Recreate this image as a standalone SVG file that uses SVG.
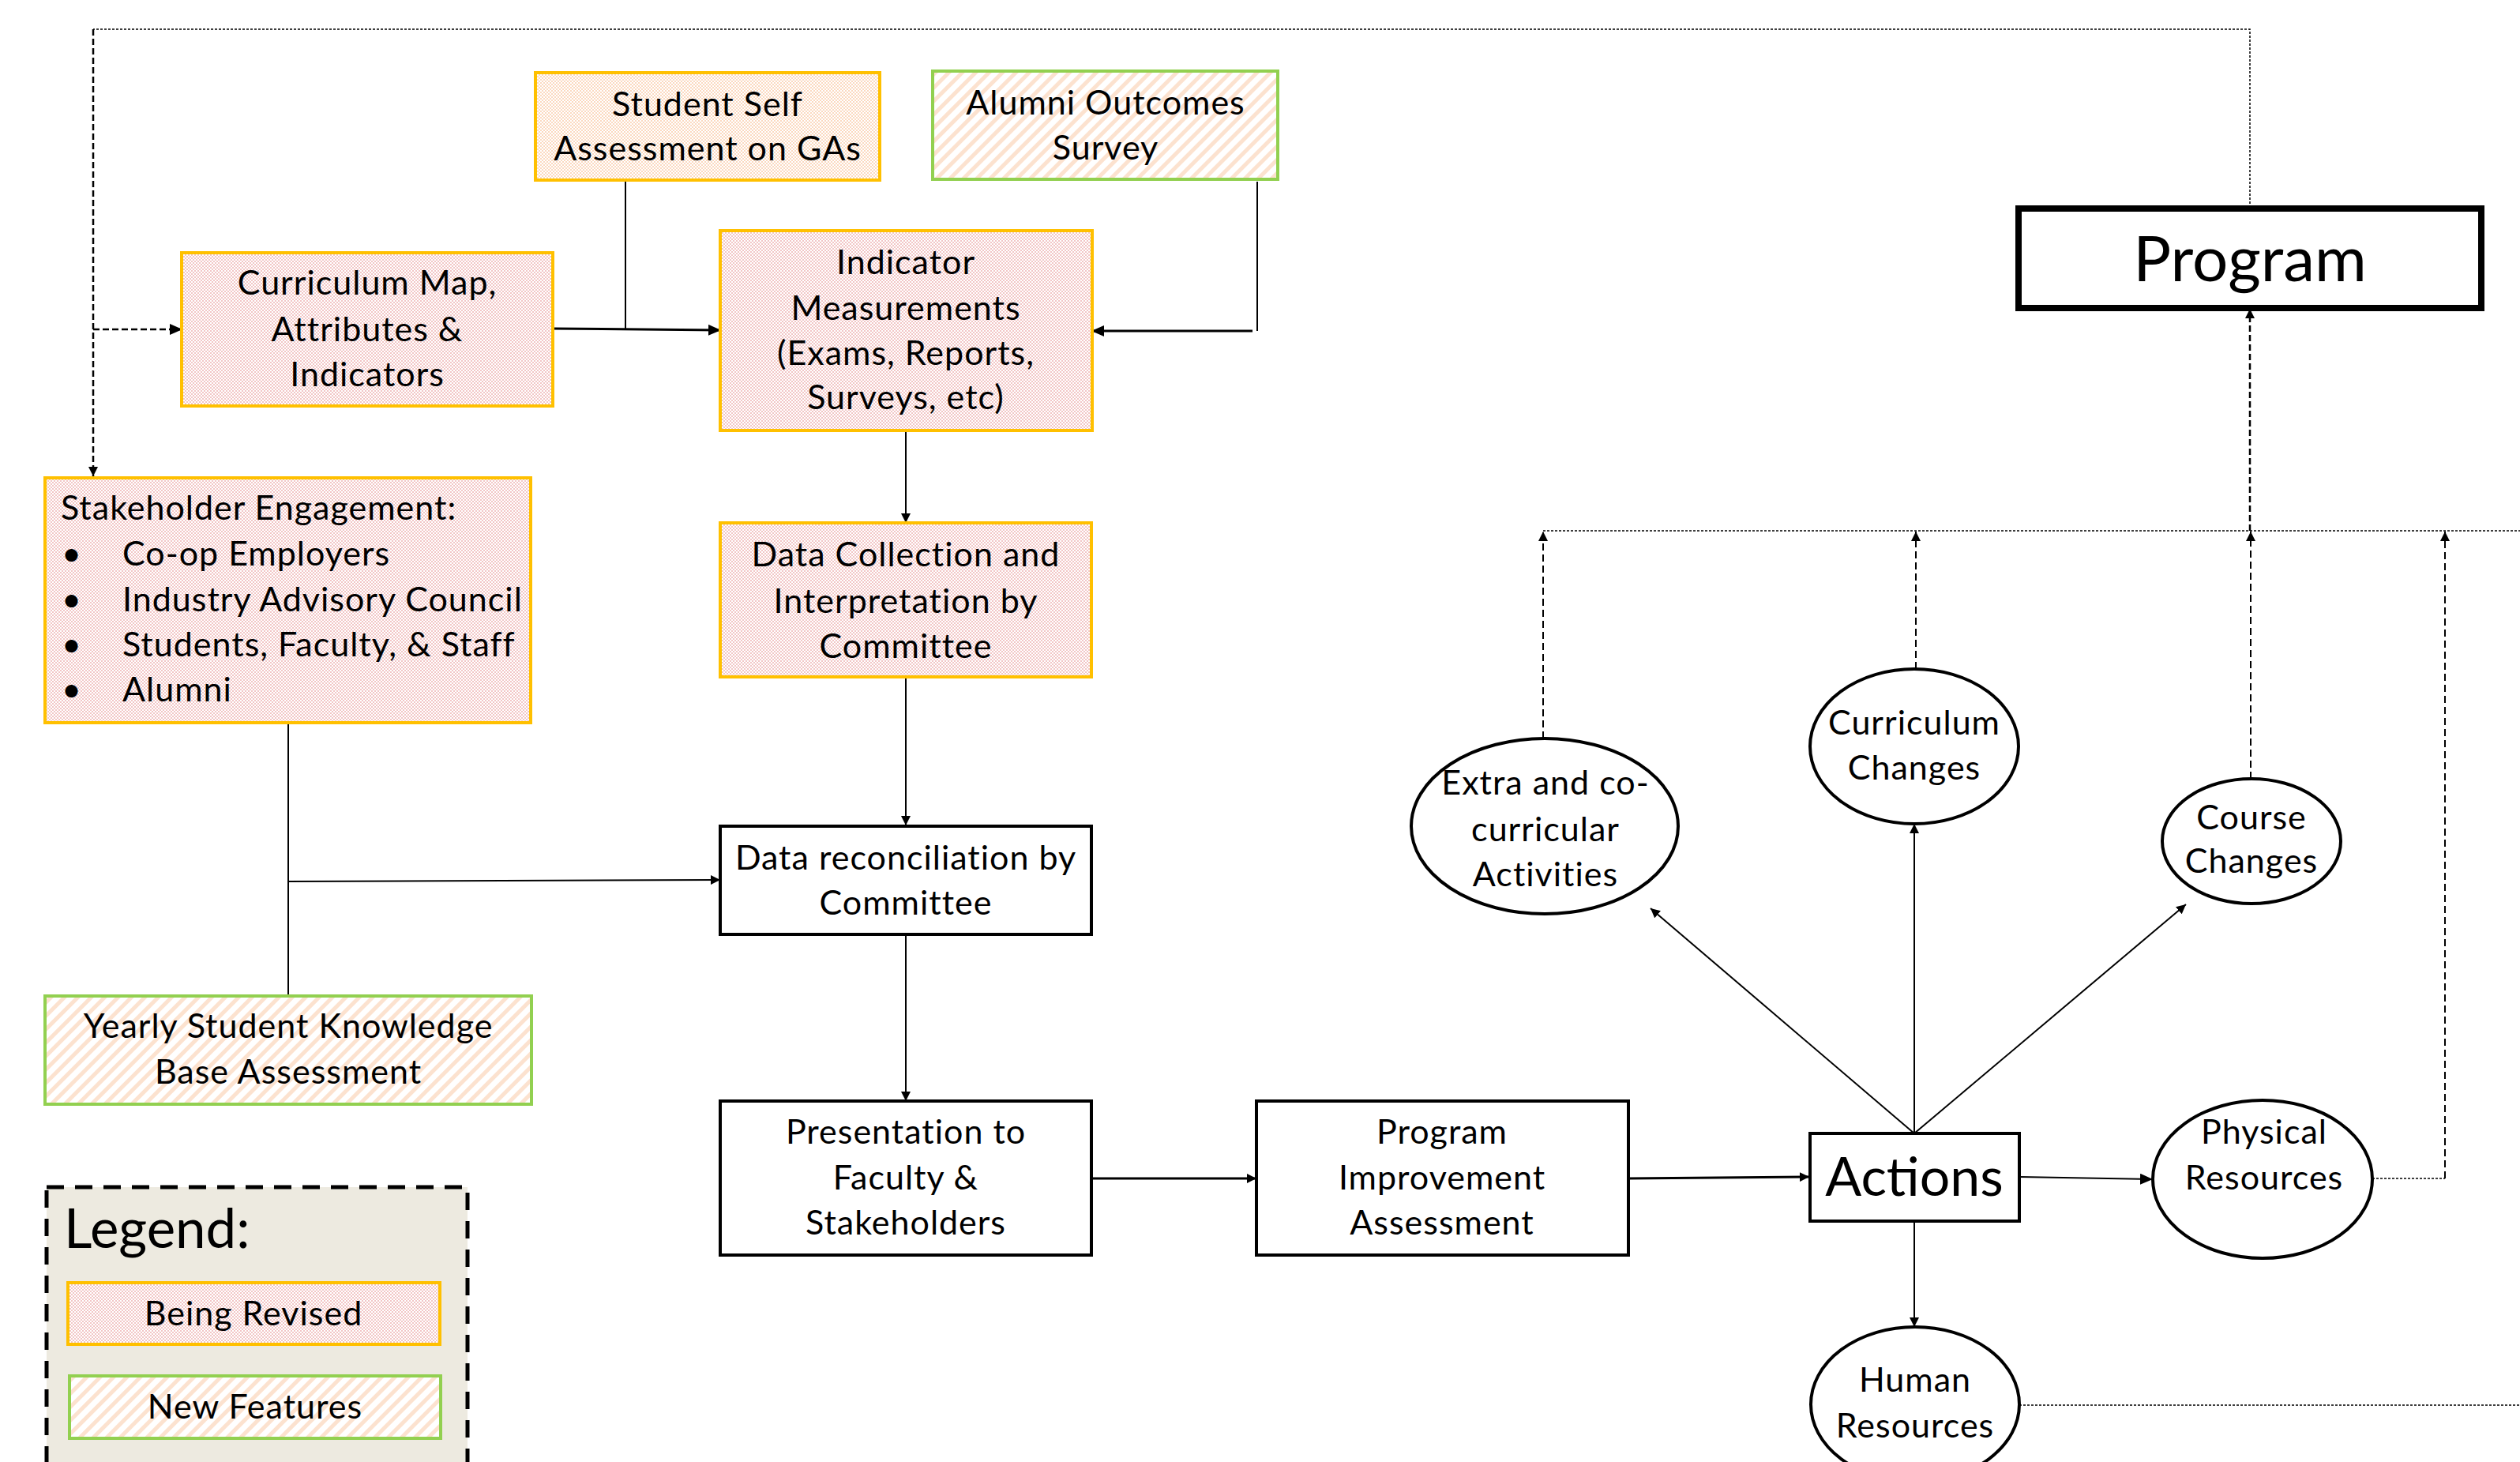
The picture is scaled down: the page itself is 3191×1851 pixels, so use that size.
<svg xmlns="http://www.w3.org/2000/svg" width="3191" height="1851" viewBox="0 0 3191 1851">
<defs>
<pattern id="pinkChk" width="4" height="4" patternUnits="userSpaceOnUse">
<rect width="4" height="4" fill="#ffffff"/>
<rect x="0" y="0" width="2" height="2" fill="#f2c6c6"/>
<rect x="2" y="2" width="2" height="2" fill="#f2c6c6"/>
</pattern>
<pattern id="peachChk" width="4" height="4" patternUnits="userSpaceOnUse">
<rect width="4" height="4" fill="#ffffff"/>
<rect x="0" y="0" width="2" height="2" fill="#fbd9c0"/>
<rect x="2" y="2" width="2" height="2" fill="#fbd9c0"/>
</pattern>
<pattern id="stripes" width="12" height="12" patternUnits="userSpaceOnUse" patternTransform="rotate(45)">
<rect width="12" height="12" fill="#ffffff"/>
<rect x="0" y="0" width="5" height="12" fill="#fce2cf"/>
</pattern>
<marker id="ah" markerUnits="userSpaceOnUse" markerWidth="16" markerHeight="14" refX="15" refY="7" orient="auto">
<path d="M0,0 L16,7 L0,14 z" fill="#000"/>
</marker>
<marker id="ahs" markerUnits="userSpaceOnUse" markerWidth="12" markerHeight="12" refX="12" refY="6" orient="auto">
<path d="M0,0 L12,6 L0,12 z" fill="#000"/>
</marker>
</defs>
<style>
text{font-family:Lato,"Liberation Sans",sans-serif;fill:#000;}
.t{font-size:43px;letter-spacing:1px;text-anchor:middle;}
.tl{font-size:43px;letter-spacing:1px;}
.rev{fill:url(#pinkChk);stroke:#ffc000;stroke-width:4;}
.revp{fill:url(#peachChk);stroke:#ffc000;stroke-width:4;}
.new{fill:url(#stripes);stroke:#92d050;stroke-width:4;}
.blk{fill:#fff;stroke:#000;stroke-width:4;}
.ell{fill:#fff;stroke:#000;stroke-width:4;}
.c{fill:none;stroke:#000;stroke-width:2;}
.c3{fill:none;stroke:#000;stroke-width:3;}
.dot{fill:none;stroke:#000;stroke-width:1.5;stroke-dasharray:3 2;}
.dash{fill:none;stroke:#000;stroke-width:2;stroke-dasharray:9 5;}
.dashb{fill:none;stroke:#000;stroke-width:2.5;stroke-dasharray:8 4;}
</style>
<rect width="3191" height="1851" fill="#fff"/>

<g id="connectors">
<!-- top feedback loop -->
<polyline class="dot" points="2849,263 2849,37 118,37"/>
<line class="dashb" x1="118" y1="37" x2="118" y2="603" marker-end="url(#ahs)"/>
<line class="dashb" x1="118" y1="417" x2="230" y2="417" marker-end="url(#ah)"/>
<!-- curriculum map to indicator -->
<line class="c3" x1="700" y1="416" x2="912" y2="418" marker-end="url(#ah)"/>
<line class="c" x1="792" y1="230" x2="792" y2="417"/>
<!-- alumni to indicator -->
<line class="c" x1="1592" y1="230" x2="1592" y2="419"/>
<line class="c3" x1="1586" y1="419" x2="1383" y2="419" marker-end="url(#ah)"/>
<!-- vertical chain -->
<line class="c" x1="1147" y1="545" x2="1147" y2="662" marker-end="url(#ahs)"/>
<line class="c" x1="1147" y1="857" x2="1147" y2="1045" marker-end="url(#ahs)"/>
<line class="c" x1="1147" y1="1183" x2="1147" y2="1394" marker-end="url(#ahs)"/>
<!-- stakeholder / yearly to reconciliation -->
<line class="c" x1="365" y1="915" x2="365" y2="1261"/>
<line class="c" x1="365" y1="1116" x2="912" y2="1114" marker-end="url(#ahs)"/>
<!-- presentation -> PIA -> Actions -->
<line class="c3" x1="1382" y1="1492" x2="1591" y2="1492" marker-end="url(#ahs)"/>
<line class="c3" x1="2062" y1="1492" x2="2291" y2="1490" marker-end="url(#ahs)"/>
<!-- actions outputs -->
<line class="c" x1="2424" y1="1435" x2="2090" y2="1150" marker-end="url(#ahs)"/>
<line class="c" x1="2424" y1="1435" x2="2424" y2="1043" marker-end="url(#ahs)"/>
<line class="c" x1="2424" y1="1435" x2="2768" y2="1145" marker-end="url(#ahs)"/>
<line class="c" x1="2557" y1="1490" x2="2725" y2="1493" marker-end="url(#ah)"/>
<line class="c" x1="2424" y1="1546" x2="2424" y2="1680" marker-end="url(#ahs)"/>
<!-- feedback to program -->
<line class="dot" x1="1954" y1="672" x2="3191" y2="672"/>
<line class="dash" x1="1954" y1="935" x2="1954" y2="673" marker-end="url(#ahs)"/>
<line class="dash" x1="2426" y1="847" x2="2426" y2="673" marker-end="url(#ahs)"/>
<line class="dash" x1="2850" y1="986" x2="2850" y2="673" marker-end="url(#ahs)"/>
<line class="dashb" x1="2849" y1="672" x2="2849" y2="391" marker-end="url(#ahs)"/>
<polyline class="dot" points="3004,1492 3096,1492"/>
<line class="dash" x1="3096" y1="1492" x2="3096" y2="673" marker-end="url(#ahs)"/>
<line class="dot" x1="2557" y1="1779" x2="3191" y2="1779"/>
</g>

<g id="student-self">
<rect class="revp" x="678" y="92" width="436" height="136"/>
<text class="t" x="896" y="147">Student Self</text>
<text class="t" x="896" y="203">Assessment on GAs</text>
</g>
<g id="alumni-outcomes">
<rect class="new" x="1181" y="90" width="437" height="137"/>
<text class="t" x="1400" y="145">Alumni Outcomes</text>
<text class="t" x="1400" y="202">Survey</text>
</g>
<g id="curriculum-map">
<rect class="rev" x="230" y="320" width="470" height="194"/>
<text class="t" x="465" y="373">Curriculum Map,</text>
<text class="t" x="465" y="432">Attributes &amp;</text>
<text class="t" x="465" y="489">Indicators</text>
</g>
<g id="indicator">
<rect class="rev" x="912" y="292" width="471" height="253"/>
<text class="t" x="1147" y="347">Indicator</text>
<text class="t" x="1147" y="405">Measurements</text>
<text class="t" x="1147" y="462">(Exams, Reports,</text>
<text class="t" x="1147" y="518">Surveys, etc)</text>
</g>
<g id="stakeholder">
<rect class="rev" x="57" y="605" width="615" height="310"/>
<text class="tl" x="77" y="658">Stakeholder Engagement:</text>
<text class="tl" x="78" y="716">•</text><text class="tl" x="155" y="716">Co-op Employers</text>
<text class="tl" x="78" y="774">•</text><text class="tl" x="155" y="774">Industry Advisory Council</text>
<text class="tl" x="78" y="831">•</text><text class="tl" x="155" y="831">Students, Faculty, &amp; Staff</text>
<text class="tl" x="78" y="888">•</text><text class="tl" x="155" y="888">Alumni</text>
</g>
<g id="data-collection">
<rect class="rev" x="912" y="662" width="470" height="195"/>
<text class="t" x="1147" y="717">Data Collection and</text>
<text class="t" x="1147" y="776">Interpretation by</text>
<text class="t" x="1147" y="833">Committee</text>
</g>
<g id="data-reconciliation">
<rect class="blk" x="912" y="1046" width="470" height="137"/>
<text class="t" x="1147" y="1101">Data reconciliation by</text>
<text class="t" x="1147" y="1158">Committee</text>
</g>
<g id="yearly">
<rect class="new" x="57" y="1261" width="616" height="137"/>
<text class="t" x="365" y="1314">Yearly Student Knowledge</text>
<text class="t" x="365" y="1372">Base Assessment</text>
</g>
<g id="presentation">
<rect class="blk" x="912" y="1394" width="470" height="195"/>
<text class="t" x="1147" y="1448">Presentation to</text>
<text class="t" x="1147" y="1506">Faculty &amp;</text>
<text class="t" x="1147" y="1563">Stakeholders</text>
</g>
<g id="pia">
<rect class="blk" x="1591" y="1394" width="471" height="195"/>
<text class="t" x="1826" y="1448">Program</text>
<text class="t" x="1826" y="1506">Improvement</text>
<text class="t" x="1826" y="1563">Assessment</text>
</g>
<g id="actions">
<rect class="blk" x="2292" y="1435" width="265" height="111"/>
<text x="2424" y="1514" style="font-size:68px;text-anchor:middle">Actions</text>
</g>
<g id="program">
<rect x="2556" y="264" width="586" height="126" fill="#fff" stroke="#000" stroke-width="8"/>
<text x="2849" y="356" style="font-size:80px;text-anchor:middle">Program</text>
</g>
<g id="extra">
<ellipse class="ell" cx="1956" cy="1046" rx="169" ry="111"/>
<text class="t" x="1957" y="1006">Extra and co-</text>
<text class="t" x="1957" y="1065">curricular</text>
<text class="t" x="1957" y="1122">Activities</text>
</g>
<g id="curriculum-changes">
<ellipse class="ell" cx="2424" cy="945" rx="132" ry="98"/>
<text class="t" x="2424" y="930">Curriculum</text>
<text class="t" x="2424" y="987">Changes</text>
</g>
<g id="course-changes">
<ellipse class="ell" cx="2851" cy="1065" rx="113" ry="79"/>
<text class="t" x="2851" y="1050">Course</text>
<text class="t" x="2851" y="1105">Changes</text>
</g>
<g id="physical">
<ellipse class="ell" cx="2865" cy="1493" rx="139" ry="100"/>
<text class="t" x="2867" y="1448">Physical</text>
<text class="t" x="2867" y="1506">Resources</text>
</g>
<g id="human">
<ellipse class="ell" cx="2425" cy="1778" rx="132" ry="98"/>
<text class="t" x="2425" y="1762">Human</text>
<text class="t" x="2425" y="1820">Resources</text>
</g>
<g id="legend">
<rect x="59" y="1503" width="533" height="380" fill="#edeae0" stroke="#000" stroke-width="5" stroke-dasharray="22 14"/>
<text x="81" y="1580" style="font-size:69px">Legend:</text>
<rect class="rev" x="86" y="1624" width="471" height="78"/>
<text class="t" x="321" y="1678">Being Revised</text>
<rect class="new" x="88" y="1742" width="470" height="79"/>
<text class="t" x="323" y="1796">New Features</text>
</g>
</svg>
